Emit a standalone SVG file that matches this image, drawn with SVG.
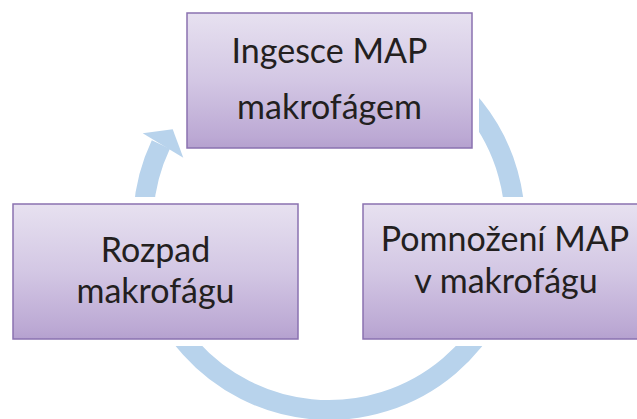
<svg xmlns="http://www.w3.org/2000/svg" width="637" height="419" viewBox="0 0 637 419">
  <defs>
    <linearGradient id="boxFill" x1="0" y1="0" x2="0" y2="1">
      <stop offset="0" stop-color="#E7E1F0"/>
      <stop offset="0.5" stop-color="#D3C7E4"/>
      <stop offset="0.92" stop-color="#BCA9D4"/>
      <stop offset="1" stop-color="#B5A1CF"/>
    </linearGradient>
    <mask id="ringMask" maskUnits="userSpaceOnUse" x="0" y="0" width="637" height="419">
      <rect x="0" y="0" width="637" height="419" fill="#fff"/>
      <rect x="180" y="6" width="299" height="149" fill="#000"/>
      <rect x="6" y="197" width="299" height="149" fill="#000"/>
      <rect x="356" y="197" width="299" height="149" fill="#000"/>
    </mask>
    <style>
      .box { fill: url(#boxFill); stroke: #8A72B0; stroke-width: 1.5; }
      .lbl { font-family: Lato, "Open Sans", "Liberation Sans", sans-serif; font-size: 34px; fill: #231F20; text-anchor: middle; }
      .ring { fill: none; stroke: #B8D3EC; stroke-width: 20; }
      .head { fill: #B8D3EC; }
    </style>
  </defs>

  <g id="connectors">
    <path class="ring" mask="url(#ringMask)" d="M422,62.92 A186,186 0 1 1 160.84,144.5"/>
    <polygon class="head" points="142.7,133.3 172.7,129.3 183.3,157.7"/>
  </g>

  <g id="node-ingesce">
    <rect class="box" x="187" y="13" width="285" height="135"/>
    <text class="lbl" x="329.5" y="63.3">Ingesce MAP</text>
    <text class="lbl" x="329.5" y="119.3">makrofágem</text>
  </g>

  <g id="node-pomnozeni">
    <rect class="box" x="363" y="204" width="285" height="135"/>
    <text class="lbl" x="505" y="250.7">Pomnožení MAP</text>
    <text class="lbl" x="506" y="293.3">v makrofágu</text>
  </g>

  <g id="node-rozpad">
    <rect class="box" x="13" y="204" width="285" height="135"/>
    <text class="lbl" x="155.5" y="261.7">Rozpad</text>
    <text class="lbl" x="155.5" y="302.7">makrofágu</text>
  </g>
</svg>
